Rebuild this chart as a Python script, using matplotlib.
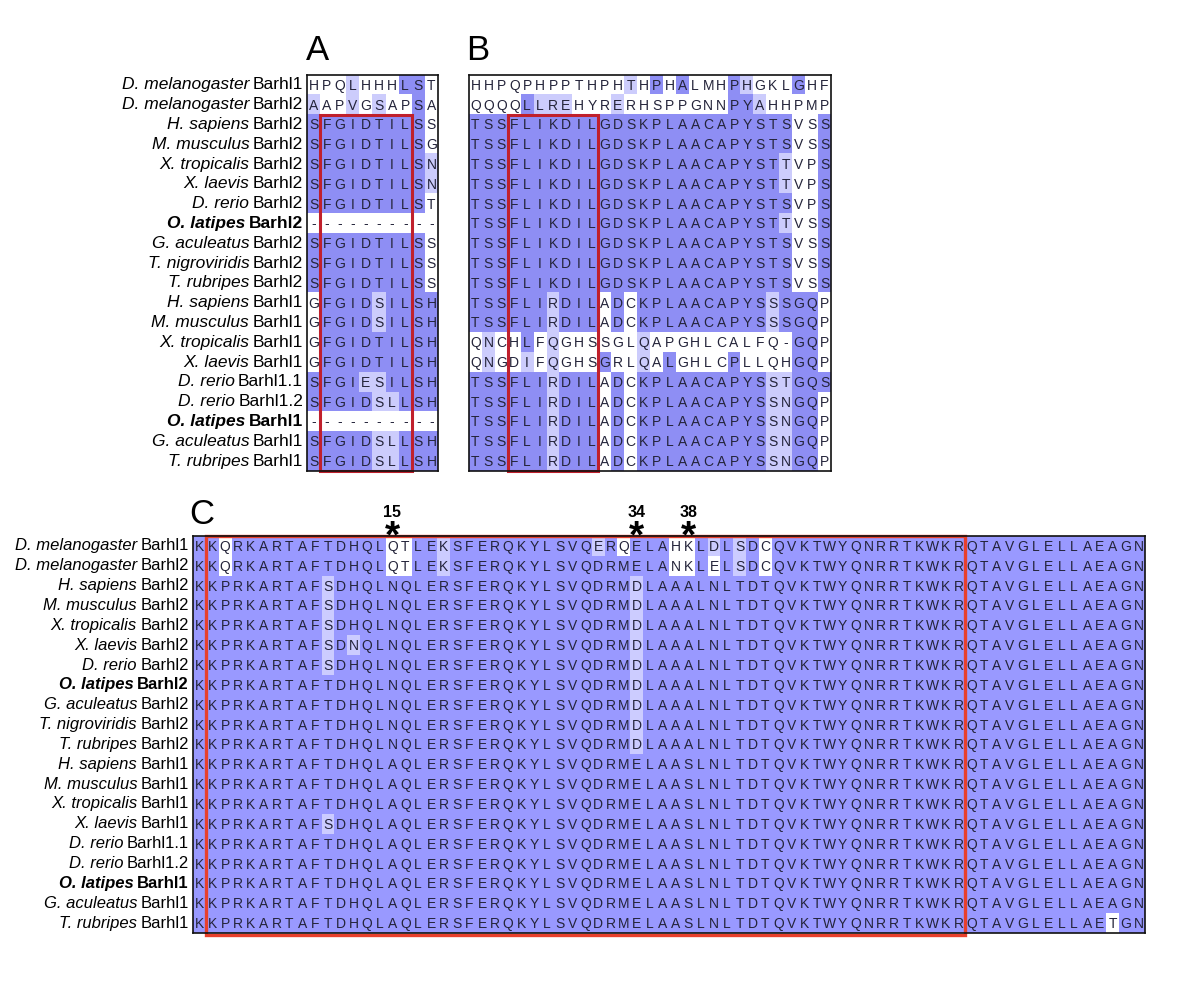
import numpy as np
import matplotlib
matplotlib.use('Agg')
import matplotlib.pyplot as plt
from matplotlib.patches import Rectangle

plt.rcParams['font.family'] = ['Liberation Sans', 'DejaVu Sans']

species = ['D. melanogaster', 'D. melanogaster', 'H. sapiens', 'M. musculus', 'X. tropicalis',
           'X. laevis', 'D. rerio', 'O. latipes', 'G. aculeatus', 'T. nigroviridis',
           'T. rubripes', 'H. sapiens', 'M. musculus', 'X. tropicalis', 'X. laevis',
           'D. rerio', 'D. rerio', 'O. latipes', 'G. aculeatus', 'T. rubripes']
genes = ['Barhl1', 'Barhl2', 'Barhl2', 'Barhl2', 'Barhl2', 'Barhl2', 'Barhl2', 'Barhl2',
         'Barhl2', 'Barhl2', 'Barhl2', 'Barhl1', 'Barhl1', 'Barhl1', 'Barhl1',
         'Barhl1.1', 'Barhl1.2', 'Barhl1', 'Barhl1', 'Barhl1']
bold_species = ['O. latipes']

seq_a = ['HPQLHHHLST', 'AAPVGSAPSA', 'SFGIDTILSS', 'SFGIDTILSG', 'SFGIDTILSN',
         'SFGIDTILSN', 'SFGIDTILST', '----------', 'SFGIDTILSS', 'SFGIDTILSS',
         'SFGIDTILSS', 'GFGIDSILSH', 'GFGIDSILSH', 'GFGIDTILSH', 'GFGIDTILSH',
         'SFGIESILSH', 'SFGIDSLLSH', '----------', 'SFGIDSLLSH', 'SFGIDSLLSH']

seq_b = ['HHPQPHPPTHPHTHPHALMHPHGKLGHF', 'QQQQLLREHYRERHSPPGNNPYAHHPMP',
         'TSSFLIKDILGDSKPLAACAPYSTSVSS', 'TSSFLIKDILGDSKPLAACAPYSTSVSS',
         'TSSFLIKDILGDSKPLAACAPYSTTVPS', 'TSSFLIKDILGDSKPLAACAPYSTTVPS',
         'TSSFLIKDILGDSKPLAACAPYSTSVPS', 'TSSFLIKDILGDSKPLAACAPYSTTVSS',
         'TSSFLIKDILGDSKPLAACAPYSTSVSS', 'TSSFLIKDILGDSKPLAACAPYSTSVSS',
         'TSSFLIKDILGDSKPLAACAPYSTSVSS', 'TSSFLIRDILADCKPLAACAPYSSSGQP',
         'TSSFLIRDILADCKPLAACAPYSSSGQP', 'QNCHLFQGHSSGLQAPGHLCALFQ-GQP',
         'QNGDIFQGHSGRLQALGHLCPLLQHGQP', 'TSSFLIRDILADCKPLAACAPYSSTGQS',
         'TSSFLIRDILADCKPLAACAPYSSNGQP', 'TSSFLIRDILADCKPLAACAPYSSNGQP',
         'TSSFLIRDILADCKPLAACAPYSSNGQP', 'TSSFLIRDILADCKPLAACAPYSSNGQP']

hd_dmel1 = 'KKQRKARTAFTDHQLQTLEKSFERQKYLSVQERQELAHKLDLSDCQVKTWYQNRRTKWKRQTAVGLELLAEAGN'
hd_dmel2 = 'KKQRKARTAFTDHQLQTLEKSFERQKYLSVQDRMELANKLELSDCQVKTWYQNRRTKWKRQTAVGLELLAEAGN'
hd_b2a = 'KKPRKARTAFSDHQLNQLERSFERQKYLSVQDRMDLAAALNLTDTQVKTWYQNRRTKWKRQTAVGLELLAEAGN'
hd_b2x = 'KKPRKARTAFSDNQLNQLERSFERQKYLSVQDRMDLAAALNLTDTQVKTWYQNRRTKWKRQTAVGLELLAEAGN'
hd_b2f = 'KKPRKARTAFTDHQLNQLERSFERQKYLSVQDRMDLAAALNLTDTQVKTWYQNRRTKWKRQTAVGLELLAEAGN'
hd_b1 = 'KKPRKARTAFTDHQLAQLERSFERQKYLSVQDRMELAASLNLTDTQVKTWYQNRRTKWKRQTAVGLELLAEAGN'
hd_b1x = 'KKPRKARTAFSDHQLAQLERSFERQKYLSVQDRMELAASLNLTDTQVKTWYQNRRTKWKRQTAVGLELLAEAGN'
hd_b1t = 'KKPRKARTAFTDHQLAQLERSFERQKYLSVQDRMELAASLNLTDTQVKTWYQNRRTKWKRQTAVGLELLAETGN'
seq_c = [hd_dmel1, hd_dmel2, hd_b2a, hd_b2a, hd_b2a, hd_b2x, hd_b2a, hd_b2f, hd_b2f,
         hd_b2f, hd_b2f, hd_b1, hd_b1, hd_b1, hd_b1x, hd_b1, hd_b1, hd_b1, hd_b1, hd_b1t]

marked_pos = [15, 34, 38]   # homeodomain positions, column = position + 1

# residue pairs with a positive BLOSUM62 score
positive = {'AS', 'RK', 'RQ', 'ND', 'NH', 'NS', 'DE', 'QE', 'QK', 'EK', 'HY', 'IL',
            'IM', 'IV', 'LM', 'LV', 'MV', 'FW', 'FY', 'ST', 'WY'}

W, H = 1200, 985
fig = plt.figure(figsize=(W / 100, H / 100), dpi=100)


def shade(seqs, dark, light):
    n = len(seqs[0])
    img = np.ones((len(seqs), n, 3))
    for j in range(n):
        col = [s[j] for s in seqs if s[j] != '-']
        if not col:
            continue
        counts = {a: col.count(a) for a in set(col)}
        top = max(counts.values())
        cons = [a for a, k in counts.items() if k == top]
        for i, s in enumerate(seqs):
            r = s[j]
            if r == '-':
                continue
            if r in cons:
                img[i, j] = dark
            elif any(r + c in positive or c + r in positive for c in cons):
                img[i, j] = light
    return img


def panel(box, seqs, dark, light, fs=10):
    x0, y0, x1, y1 = box
    ax = fig.add_axes([x0 / W, 1 - y1 / H, (x1 - x0) / W, (y1 - y0) / H])
    nr, nc = len(seqs), len(seqs[0])
    ax.imshow(shade(seqs, dark, light), extent=(0, nc, nr, 0), aspect='auto',
              interpolation='nearest')
    for i, s in enumerate(seqs):
        for j, r in enumerate(s):
            ax.text(j + 0.5, i + 0.55, r, ha='center', va='center', fontsize=fs,
                    color='#24243a')
    ax.set_xlim(0, nc)
    ax.set_ylim(nr, 0)
    ax.set_xticks([])
    ax.set_yticks([])
    for sp in ax.spines.values():
        sp.set_linewidth(1.2)
        sp.set_color('#111111')
    return ax


def labels(ax, fs=12):
    for i, (sp, g) in enumerate(zip(species, genes)):
        w = 'bold' if sp in bold_species else 'normal'
        gt = ax.annotate(g, xy=(0, i + 0.5), xytext=(-4, 0), textcoords='offset pixels',
                         ha='right', va='center', fontsize=fs, fontweight=w,
                         annotation_clip=False)
        ax.annotate(sp, xy=(0, 0.5), xycoords=gt, xytext=(-3.5, 0),
                    textcoords='offset pixels', ha='right', va='center',
                    fontsize=fs, fontweight=w, fontstyle='italic', annotation_clip=False)


dark_ab, light_ab = (0.56, 0.56, 0.96), (0.80, 0.80, 0.99)
dark_c, light_c = (0.60, 0.60, 1.0), (0.80, 0.80, 1.0)

ax_a = panel((307, 75, 438, 471), seq_a, dark_ab, light_ab)
ax_b = panel((469, 75, 831, 471), seq_b, dark_ab, light_ab)
ax_c = panel((193, 536, 1145, 933), seq_c, dark_c, light_c)

labels(ax_a, fs=12.5)
labels(ax_c, fs=12)

# motif boxes
ax_a.add_patch(Rectangle((1, 2), 7, 18, fill=False, edgecolor='#c0202c', lw=2.2, clip_on=False))
ax_b.add_patch(Rectangle((3, 2), 7, 18, fill=False, edgecolor='#c0202c', lw=2.2, clip_on=False))
ax_c.add_patch(Rectangle((1, 0), 59, 20.08, fill=False, edgecolor='#e8402c', lw=2.4, clip_on=False))

for p in marked_pos:
    ax_c.text(p + 0.5, -1.2, str(p), ha='center', va='center', fontsize=11.5,
              fontweight='bold', clip_on=False)
    ax_c.text(p + 0.5, 0.6, '*', ha='center', va='baseline', fontsize=28,
              fontweight='bold', clip_on=False)

fig.text(318 / W, 1 - 51 / H, 'A', ha='center', va='center', fontsize=25)
fig.text(478 / W, 1 - 51 / H, 'B', ha='center', va='center', fontsize=25)
fig.text(202 / W, 1 - 515 / H, 'C', ha='center', va='center', fontsize=25)

fig.savefig('out.png', dpi=100, facecolor='white')
